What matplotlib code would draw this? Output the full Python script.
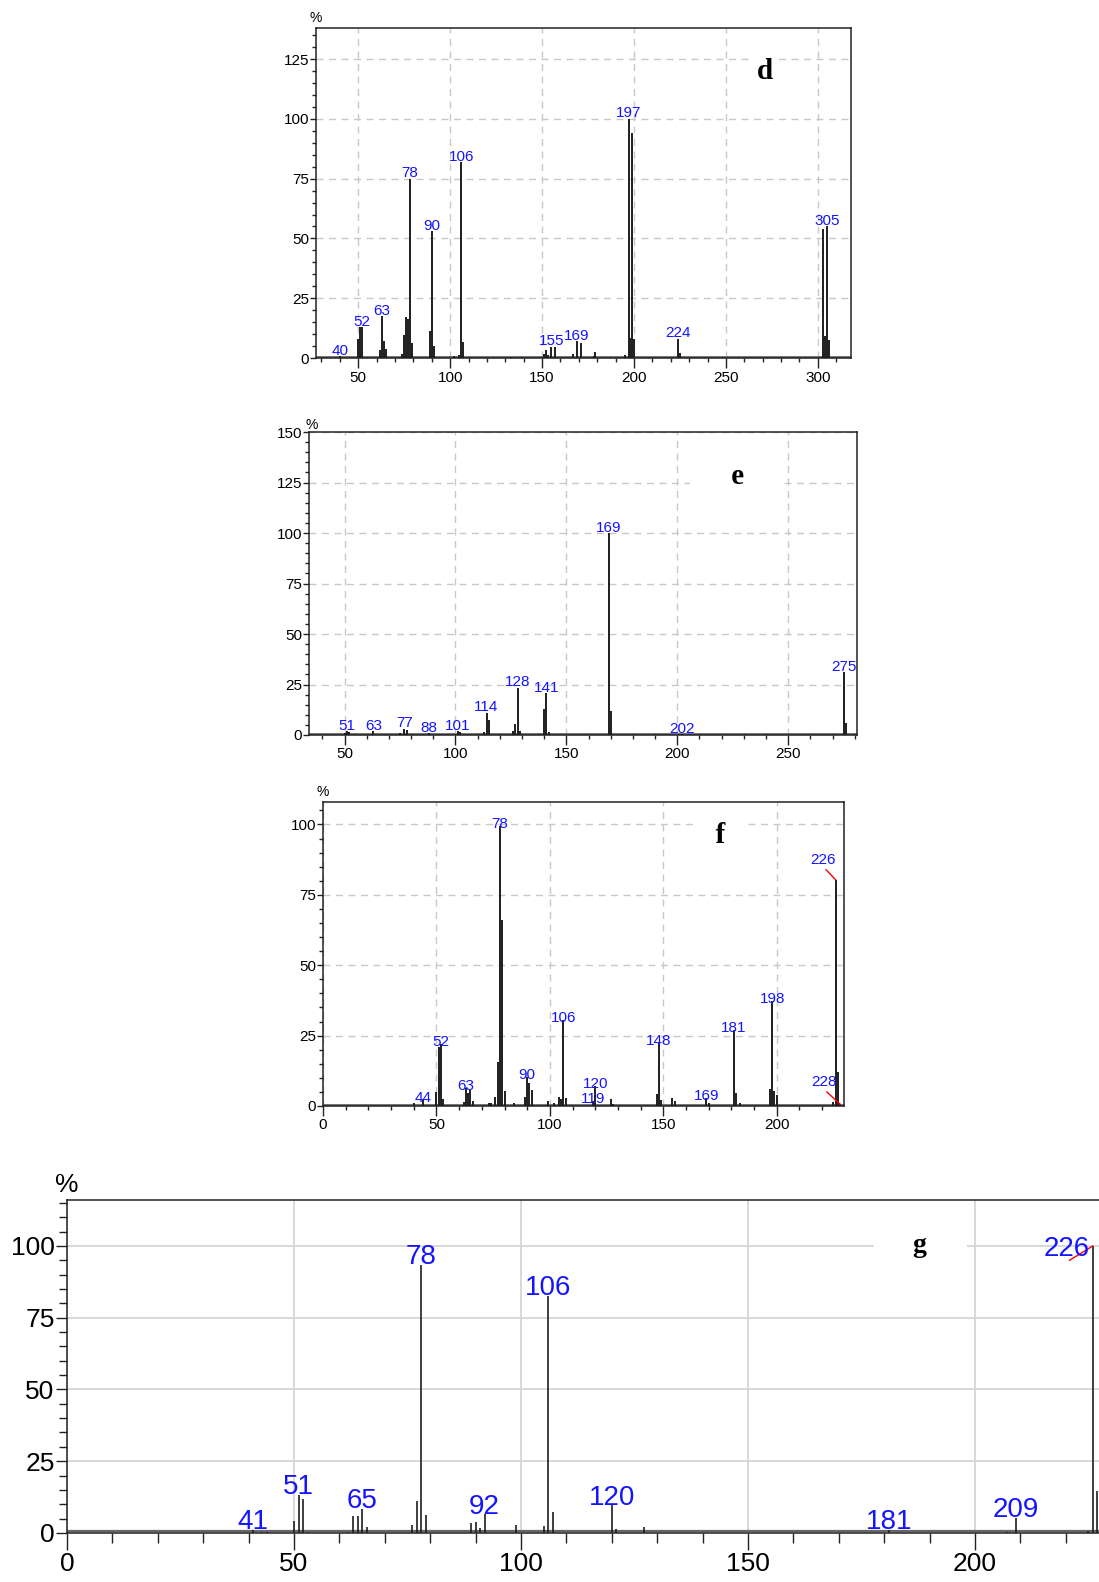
import matplotlib
matplotlib.use('Agg')
import matplotlib.pyplot as plt
from matplotlib import font_manager as fm
from matplotlib.ticker import MultipleLocator

names = {f.name for f in fm.fontManager.ttflist}
NARROW = 'Liberation Sans Narrow' if 'Liberation Sans Narrow' in names else 'Liberation Sans'
SANS = 'Liberation Sans'
SERIF = 'Liberation Serif'
BLUE = '#1414ff'

# ---------------- data ----------------
d_mz = [40, 50, 51, 52, 62, 63, 64, 65, 74, 75, 76, 77, 78, 79, 89, 90, 91, 102, 105, 106, 107,
        133, 139, 151, 152, 153, 155, 157, 167, 169, 171, 178, 179, 195, 197, 198, 199, 200,
        224, 225, 303, 304, 305, 306]
d_int = [0.8, 7.8, 12.8, 12.8, 3.3, 17.5, 7, 3.7, 1.8, 9.7, 17, 16.2, 75, 6.1, 11.5, 53, 5, 0.9, 1.4, 82, 6.8,
         0.5, 0.5, 1.8, 3.3, 1.4, 4.7, 4.7, 1.8, 7.1, 6.1, 1, 2.5, 1.4, 100, 8.5, 94, 7.8,
         8, 2.2, 54, 9, 55, 7.7]
d_labels = [40, 52, 63, 78, 90, 106, 155, 169, 197, 224, 305]

e_mz = [50, 51, 52, 63, 75, 77, 78, 88, 101, 102, 113, 114, 115, 126, 127, 128, 129, 138, 140, 141, 142,
        169, 170, 202, 275, 276]
e_int = [1.2, 2, 1.5, 2, 0.9, 3.1, 2.6, 0.9, 2, 1.7, 1.7, 11, 7.3, 2, 5.6, 23.5, 2, 0.7, 13, 20.7, 1.7,
         100, 12, 0.4, 31, 6]
e_labels = [51, 63, 77, 88, 101, 114, 128, 141, 169, 202, 275]

f_mz = [40, 44, 50, 51, 52, 53, 62, 63, 64, 65, 66, 73, 74, 76, 77, 78, 79, 80, 84, 89, 90, 91, 92,
        99, 102, 104, 105, 106, 107, 119, 120, 127, 128, 147, 148, 149, 154, 155, 169, 170,
        181, 182, 184, 197, 198, 199, 200, 225, 226, 227, 228]
f_int = [1, 2, 5, 21, 22, 2.6, 1.5, 6.5, 4.5, 5.7, 1.8, 1, 1.2, 3.2, 15.6, 99.5, 66, 5.3, 1, 3.2, 10.4, 8, 5.7,
         1.8, 1, 3.3, 2.6, 30.5, 2.8, 1.8, 7, 2.6, 0.8, 4.1, 22.5, 2.1, 3, 1.8, 3, 1.2,
         27, 4.7, 1, 6.2, 37.3, 5.3, 3.8, 1.4, 80.3, 12.2, 0.6]
f_labels = [44, 52, 63, 78, 90, 106, 119, 120, 148, 169, 181, 198]
f_leader_labels = [226, 228]

g_mz = [41, 43, 44, 50, 51, 52, 53, 62, 63, 64, 65, 66, 76, 77, 78, 79, 89, 90, 91, 92, 99,
        105, 106, 107, 120, 121, 127, 181, 207, 209, 225, 226, 227]
g_int = [1, 0.5, 0.5, 4.2, 13.2, 11.7, 0.5, 0.5, 6, 6, 8.5, 2.1, 2.8, 11.2, 93.3, 6.3, 3.6, 3.9, 1.9, 6.5, 2.8,
         2.5, 82.5, 7.4, 9.6, 1.4, 2.1, 1.2, 0.5, 5.3, 0.6, 100, 14.6]
g_labels = [41, 51, 65, 78, 92, 106, 120, 181, 209]
g_leader_labels = [226]

# ---------------- figure ----------------
fig = plt.figure(figsize=(10.99, 15.82), dpi=100)


def setup(ax, xlim, ylim, fam, fs, grid_style, xmaj_len, xmin_len, ymaj_len, ymin_len, pad_y):
    ax.set_xlim(*xlim)
    ax.set_ylim(*ylim)
    ax.xaxis.set_major_locator(MultipleLocator(50))
    ax.xaxis.set_minor_locator(MultipleLocator(10))
    ax.yaxis.set_major_locator(MultipleLocator(25))
    ax.yaxis.set_minor_locator(MultipleLocator(5))
    ax.tick_params(axis='x', which='major', direction='out', length=xmaj_len, width=1, color='#222',
                   labelsize=fs, pad=2)
    ax.tick_params(axis='x', which='minor', direction='out', length=xmin_len, width=1, color='#222')
    ax.tick_params(axis='y', which='major', direction='out', length=ymaj_len, width=1, color='#222',
                   labelsize=fs, pad=pad_y)
    ax.tick_params(axis='y', which='minor', direction='out', length=ymin_len, width=1, color='#222')
    for lab in ax.get_xticklabels() + ax.get_yticklabels():
        lab.set_fontfamily(fam)
    for s in ax.spines.values():
        s.set_color('#222')
        s.set_linewidth(1.1)
    ax.set_axisbelow(True)
    if grid_style == 'dashed':
        ax.grid(True, which='major', color='#c8c8c8', lw=1.0, ls=(0, (5, 4)))
    else:
        ax.grid(True, which='major', color='#d6d6d6', lw=1.3, ls='-')


def draw_peaks(ax, mz, inten, lw, base_y, base_lw):
    ax.axhline(base_y, color='#666', lw=base_lw, zorder=2)
    ax.vlines(mz, 0, inten, color='#1e1e1e', lw=lw, zorder=3)


def label_peaks(ax, mz, inten, labels, fam, fs, off=1.0):
    for m, h in zip(mz, inten):
        if m in labels:
            ax.annotate(str(m), (m, h), xytext=(0, off), textcoords='offset points',
                        ha='center', va='baseline', color=BLUE, fontsize=fs, family=fam, zorder=5)


def leader(ax, mz, inten, m, dx, dy, fam, fs, relpos=(0.5, 0.0)):
    h = inten[mz.index(m)]
    ax.annotate(str(m), (m, h), xytext=(dx, dy), textcoords='offset points',
                ha='center', va='center', color=BLUE, fontsize=fs, family=fam, zorder=5,
                arrowprops=dict(arrowstyle='-', color='red', lw=1.0, shrinkA=0, shrinkB=0,
                                relpos=relpos))


def letter(ax, x, y, s, fs):
    ax.text(x, y, s, ha='center', va='center', fontsize=fs, fontweight='bold', family=SERIF,
            color='black', zorder=4,
            bbox=dict(boxstyle='square,pad=0.15', fc='white', ec='none'))


FS = 11
# ---- panel d ----
ax_d = fig.add_axes([0.2875, 0.7737, 0.4868, 0.2086])
setup(ax_d, (27, 318), (0, 138), NARROW, FS, 'dashed', 7, 3, 4, 3, 1)
draw_peaks(ax_d, d_mz, d_int, 1.4, 0.3, 2.0)
label_peaks(ax_d, d_mz, d_int, d_labels, NARROW, FS)
letter(ax_d, 271, 120, 'd', 21)
ax_d.text(0.0, 1.01, '%', transform=ax_d.transAxes, ha='center', va='bottom', fontsize=10, family=NARROW)

# ---- panel e ----
ax_e = fig.add_axes([0.2812, 0.5354, 0.4986, 0.1915])
setup(ax_e, (34, 281), (0, 150), NARROW, FS, 'dashed', 7, 3, 4, 3, 1)
draw_peaks(ax_e, e_mz, e_int, 1.4, 0.3, 2.0)
label_peaks(ax_e, e_mz, e_int, e_labels, NARROW, FS)
letter(ax_e, 227, 128, '     e     ', 21)
ax_e.text(0.005, 1.0, '%', transform=ax_e.transAxes, ha='center', va='bottom', fontsize=10, family=NARROW)

# ---- panel f ----
ax_f = fig.add_axes([0.2939, 0.3009, 0.4740, 0.1922])
setup(ax_f, (0, 229.6), (0, 108), NARROW, FS, 'dashed', 7, 3, 4, 3, 1)
draw_peaks(ax_f, f_mz, f_int, 1.4, 0.3, 2.0)
label_peaks(ax_f, f_mz, f_int, f_labels, NARROW, FS, off=-1.5)
leader(ax_f, f_mz, f_int, 226, -9, 14.5, NARROW, FS)
leader(ax_f, f_mz, f_int, 228, -12, 16, NARROW, FS)
letter(ax_f, 175, 96, '  f  ', 21)
ax_f.text(0.0, 1.01, '%', transform=ax_f.transAxes, ha='center', va='bottom', fontsize=10, family=NARROW)

# ---- panel g ----
ax_g = fig.add_axes([0.0610, 0.0310, 0.9500, 0.2105])
setup(ax_g, (0, 230), (0, 116), SANS, 19, 'solid', 12, 7, 8, 6, 1)
draw_peaks(ax_g, g_mz, g_int, 1.2, 0.7, 1.6)
label_peaks(ax_g, g_mz, g_int, g_labels, SANS, 20, off=0.5)
leader(ax_g, g_mz, g_int, 226, -18.6, -2, SANS, 20, relpos=(0.55, 0.05))
letter(ax_g, 188, 100, '     g     ', 20)
ax_g.text(0.0, 1.01, '%', transform=ax_g.transAxes, ha='center', va='bottom', fontsize=19, family=SANS)

fig.savefig('out.png', dpi=100)
